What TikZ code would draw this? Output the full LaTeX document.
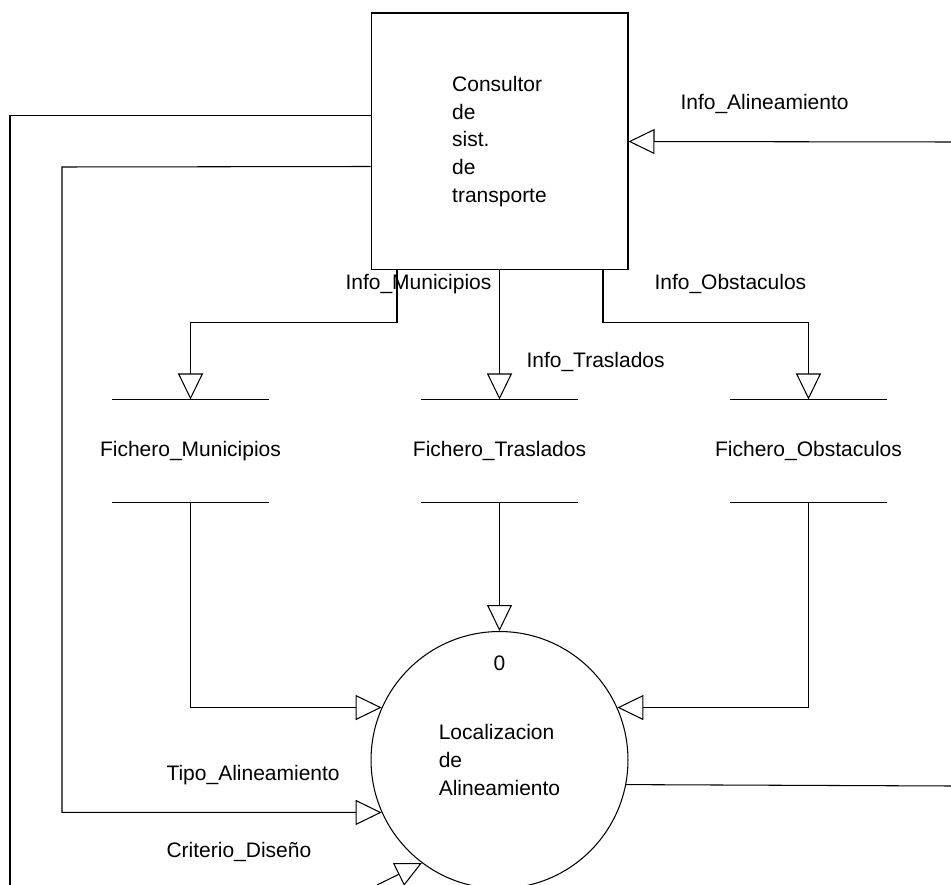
\documentclass[tikz,border=0pt]{standalone}
\usepackage{fontspec}
\setmainfont{Liberation Sans}
\usetikzlibrary{arrows.meta, calc}
\tikzstyle{proceso} = [circle, minimum size=5.14cm, draw=black, align=left]
\tikzstyle{entidad} = [rectangle, minimum width=5.14cm, minimum height=5.14cm, draw=black, align=left]
\tikzstyle{almacen} = [rectangle, minimum width=3.1cm, minimum height=2.04cm, inner xsep=-0.4cm, text centered]
\tikzstyle{rotulo} = [inner sep=0pt, anchor=base west]
\tikzstyle{flecha} = [-{Triangle[open, length=0.52cm, width=0.5cm]}]

\begin{document}
\begin{tikzpicture}[x=0.02cm, y=-0.02cm, line width=0.6pt, font=\fontsize{11.95}{15.7}\selectfont]
\useasboundingbox (0,0) rectangle (951,885);

\node (cons) [entidad] at (499.5,141.5) {Consultor\\de\\sist.\\de\\transporte};
\node (loc) [proceso] at (499.5,760) {Localizacion\\de\\Alineamiento};
\node (num) [rotulo, anchor=base] at (499.5,670) {0};

\node (fmun) [almacen] at (190.5,451) {Fichero\_Municipios};
\node (ftra) [almacen] at (499.5,451) {Fichero\_Traslados};
\node (fobs) [almacen] at (808.5,451) {Fichero\_Obstaculos};
\foreach \f in {fmun,ftra,fobs}
  \draw (\f.north west) -- (\f.north east) (\f.south west) -- (\f.south east);

% extremos libres
\coordinate (finA) at (10,885);
\coordinate (finC) at (377,885);
\coordinate (entA) at (951,142);
\coordinate (salA) at (951,786);

\draw[flecha] ($(cons.south)+(-102.5,0)$) -- ++(0,52) -| (fmun.north);
\node (imun) [rotulo] at (345,290) {Info\_Municipios};
\draw[flecha] (cons.south) -- (ftra.north);
\node (itra) [rotulo] at (526,368) {Info\_Traslados};
\draw[flecha] ($(cons.south)+(103.5,0)$) -- ++(0,52) -| (fobs.north);
\node (iobs) [rotulo] at (654,290) {Info\_Obstaculos};

\draw[flecha] (fmun.south) |- (loc.156);
\draw[flecha] (ftra.south) -- (loc.north);
\draw[flecha] (fobs.south) |- (loc.24);

\draw[flecha] (entA) -- (cons.east);
\node (iali) [rotulo] at (680,110) {Info\_Alineamiento};

\draw ($(cons.north west)+(0,103)$) -| (finA);
\draw[flecha] ($(cons.north west)+(0,154)$) -- (62,167) |- (loc.204);
\node (tali) [rotulo] at (166,780) {Tipo\_Alineamiento};
\draw[flecha] (finC) -- (loc.233);
\node (cdis) [rotulo] at (166,857) {Criterio\_Diseño};

\draw (loc.-11.7) -- (salA);

\end{tikzpicture}
\end{document}
